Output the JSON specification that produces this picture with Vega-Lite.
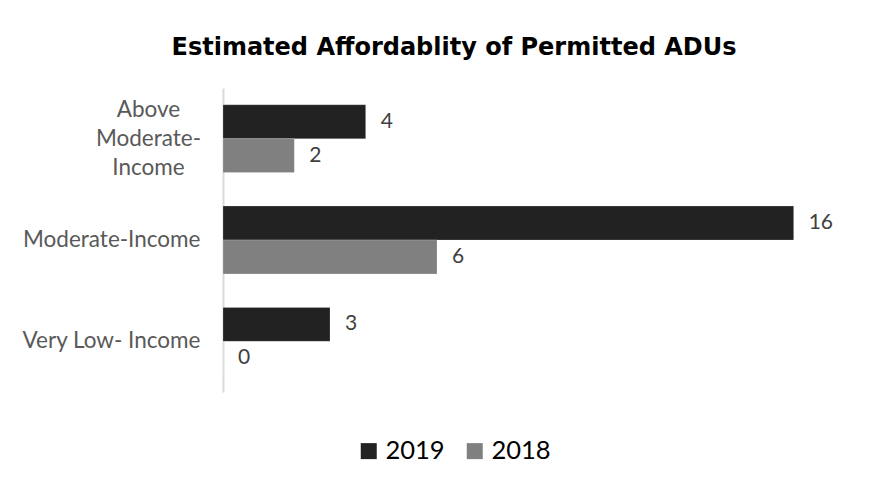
{
  "$schema": "https://vega.github.io/schema/vega-lite/v6.json",
  "width": 642,
  "height": 304,
  "autosize": {"type": "none"},
  "padding": {"left": 223, "top": 88, "right": 19, "bottom": 95},
  "background": "white",
  "config": {"view": {"stroke": null}},
  "title": {
    "text": "Estimated Affordablity of Permitted ADUs",
    "font": "DejaVu Sans",
    "fontWeight": "bold",
    "fontSize": 24,
    "color": "#000000",
    "anchor": "middle",
    "baseline": "alphabetic",
    "offset": 9,
    "dx": -90
  },
  "data": {
    "values": [
      {"category": "Above Moderate-Income", "year": "2019", "count": 4},
      {"category": "Above Moderate-Income", "year": "2018", "count": 2},
      {"category": "Moderate-Income", "year": "2019", "count": 16},
      {"category": "Moderate-Income", "year": "2018", "count": 6},
      {"category": "Very Low- Income", "year": "2019", "count": 3},
      {"category": "Very Low- Income", "year": "2018", "count": 0}
    ]
  },
  "encoding": {
    "y": {
      "field": "category",
      "type": "nominal",
      "sort": ["Above Moderate-Income", "Moderate-Income", "Very Low- Income"],
      "scale": {"paddingInner": 0.33, "paddingOuter": 0.165},
      "axis": {
        "title": null,
        "ticks": false,
        "domainColor": "#d9d9d9",
        "domainWidth": 2,
        "labelFont": "Lato",
        "labelFontSize": 22.5,
        "labelColor": "#595959",
        "labelLineHeight": 29,
        "labelLimit": 300,
        "labelAlign": {"condition": {"test": "datum.value == 'Above Moderate-Income'", "value": "center"}, "value": "right"},
        "labelPadding": {"condition": {"test": "datum.value == 'Above Moderate-Income'", "value": 75}, "value": 23},
        "labelOffset": {"condition": {"test": "datum.value == 'Above Moderate-Income'", "value": -29}, "value": 0},
        "labelExpr": "datum.value == 'Above Moderate-Income' ? ['Above', 'Moderate-', 'Income'] : datum.value"
      }
    },
    "yOffset": {"field": "year", "type": "nominal", "sort": ["2019", "2018"]},
    "x": {
      "field": "count",
      "type": "quantitative",
      "scale": {"domain": [0, 18]},
      "axis": null
    }
  },
  "layer": [
    {
      "mark": {"type": "bar", "stroke": "#ffffff", "strokeWidth": 0.5, "strokeOpacity": 0.4},
      "encoding": {
        "color": {
          "field": "year",
          "type": "nominal",
          "sort": ["2019", "2018"],
          "scale": {"domain": ["2019", "2018"], "range": ["#222222", "#808080"]},
          "legend": {
            "title": null,
            "orient": "none",
            "legendX": 133,
            "legendY": 350,
            "direction": "horizontal",
            "symbolType": "square",
            "symbolSize": 256,
            "symbolStrokeWidth": 0,
            "labelFont": "Lato",
            "labelFontSize": 25.5,
            "labelColor": "#000000",
            "labelOffset": 4,
            "columnPadding": 17
          }
        }
      }
    },
    {
      "mark": {"type": "text", "align": "left", "baseline": "middle", "dx": 15, "font": "Lato", "fontSize": 21, "color": "#404040"},
      "encoding": {
        "text": {"field": "count", "type": "quantitative"}
      }
    }
  ]
}
